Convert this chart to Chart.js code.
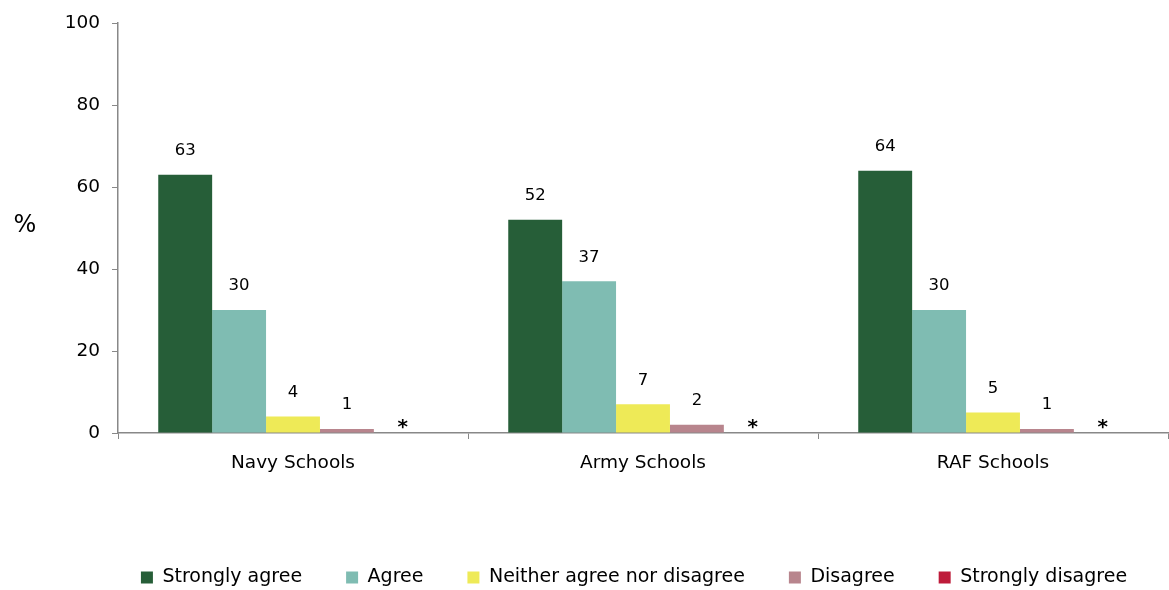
<!DOCTYPE html>
<html>
<head>
<meta charset="utf-8">
<script src="https://cdn.jsdelivr.net/npm/chart.js@4.4.1/dist/chart.umd.min.js"></script>
<style>
  html, body { margin: 0; padding: 0; background: #fff; }
  #wrap { width: 1169px; height: 590px; }
</style>
</head>
<body>
<div id="wrap"><canvas id="myChart"></canvas></div>
<script>
//DADES
let schools = ["Navy Schools", "Army Schools", "RAF Schools"];
let stronglyAgree = [63, 52, 64];
let agree = [30, 37, 30];
let neither = [4, 7, 5];
let disagree = [1, 2, 1];
let stronglyDisagree = [0, 0, 0];
// etiqueta "*" = menys de 0.5%
let stronglyDisagreeLabels = ["*", "*", "*"];
let yTicks = [0, 20, 40, 60, 80, 100];

const FONT = "'DejaVu Sans', Verdana, sans-serif";

// etiquetes de valor damunt de cada barra
const valueLabels = {
	id: 'valueLabels',
	afterDatasetsDraw(chart) {
		const ctx = chart.ctx;
		ctx.save();
		ctx.fillStyle = '#000';
		ctx.textAlign = 'center';
		chart.data.datasets.forEach((ds, i) => {
			const meta = chart.getDatasetMeta(i);
			meta.data.forEach((bar, j) => {
				if (ds.starLabels) {
					ctx.font = 'bold 20px ' + FONT;
					ctx.textBaseline = 'alphabetic';
					ctx.fillText(ds.starLabels[j], bar.x + 2, bar.base);
				} else {
					ctx.font = '16.5px ' + FONT;
					ctx.textBaseline = 'middle';
					ctx.fillText(ds.data[j], bar.x, bar.y - 24);
				}
			});
		});
		ctx.restore();
	}
};

// el "%" horitzontal a l'esquerra
const percentTitle = {
	id: 'percentTitle',
	afterDraw(chart) {
		const ctx = chart.ctx;
		ctx.save();
		ctx.font = '24px ' + FONT;
		ctx.fillStyle = '#000';
		ctx.textAlign = 'center';
		ctx.textBaseline = 'middle';
		ctx.fillText('%', 25, 226);
		ctx.restore();
	}
};

// la llegenda va desplaçada una mica cap a la dreta
const legendShift = {
	id: 'legendShift',
	afterLayout(chart) {
		chart.legend.left += 50;
		chart.legend.right += 50;
	}
};

const config = {
	type: 'bar',
	data: {
		labels: schools,
		datasets: [
			{ label: 'Strongly agree', data: stronglyAgree, backgroundColor: '#265E38' },
			{ label: 'Agree', data: agree, backgroundColor: '#7FBCB2' },
			{ label: 'Neither agree nor disagree', data: neither, backgroundColor: '#EEEA57' },
			{ label: 'Disagree', data: disagree, backgroundColor: '#B8858D' },
			{ label: 'Strongly disagree', data: stronglyDisagree, backgroundColor: '#BE1B3A', starLabels: stronglyDisagreeLabels }
		]
	},
	options: {
		responsive: true,
		maintainAspectRatio: false,
		animation: false,
		layout: { padding: { top: 22, right: 1, left: 0, bottom: -7 } },
		datasets: {
			bar: { categoryPercentage: 0.77, barPercentage: 1.0 }
		},
		scales: {
			x: {
				grid: { display: true, drawOnChartArea: false, offset: true, color: '#888', tickLength: 6 },
				border: { color: '#888', width: 1.5 },
				ticks: { color: '#000', font: { family: FONT, size: 18.5 }, padding: 13 },
				afterFit: (scale) => { scale.height = 91; }
			},
			y: {
				min: 0,
				max: 100,
				afterBuildTicks: (scale) => { scale.ticks = yTicks.map(v => ({ value: v })); },
				grid: { display: true, drawOnChartArea: false, color: '#888', tickLength: 6 },
				border: { color: '#888', width: 1.5 },
				ticks: { color: '#000', font: { family: FONT, size: 18.5 }, padding: 12 },
				afterFit: (scale) => { scale.width = 118; }
			}
		},
		plugins: {
			tooltip: { enabled: false },
			legend: {
				position: 'bottom',
				labels: {
					color: '#000',
					font: { family: FONT, size: 19 },
					boxWidth: 12,
					boxHeight: 12,
					padding: 44
				}
			}
		}
	},
	plugins: [valueLabels, percentTitle, legendShift]
};

const ctx = document.getElementById('myChart').getContext('2d');
const myChart = new Chart(ctx, config);
</script>
</body>
</html>
